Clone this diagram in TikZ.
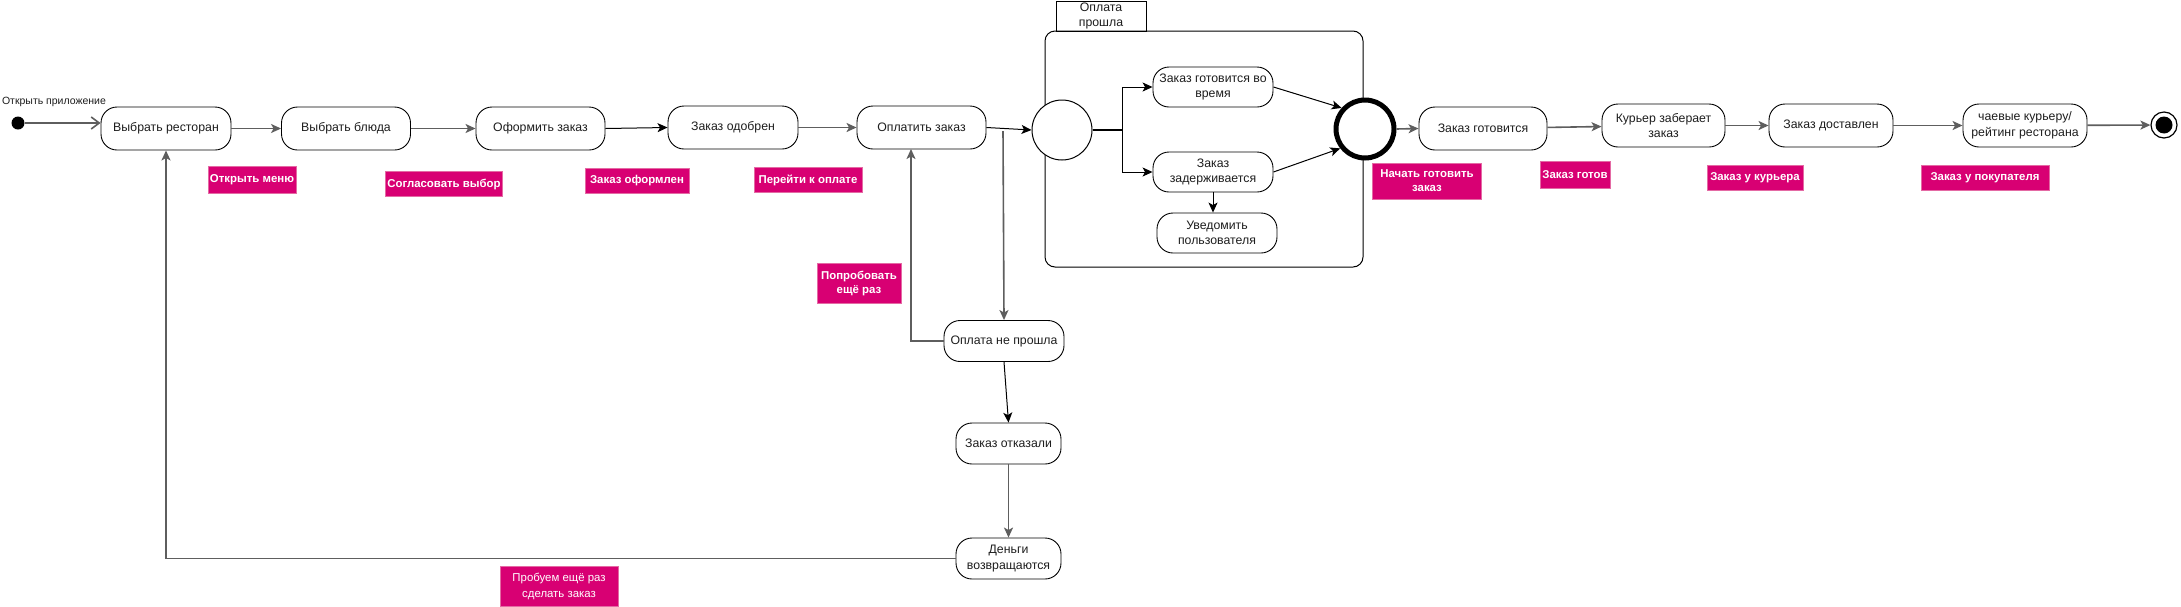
\documentclass[tikz,border=0pt]{standalone}
\usepackage{fontspec}
\setmainfont{Liberation Sans}
\usetikzlibrary{arrows.meta,calc}
\definecolor{pinkfill}{HTML}{D80073}
\definecolor{pinkedge}{HTML}{E46AA4}
\definecolor{edgegray}{HTML}{5E5E5E}
\definecolor{txt}{HTML}{1E1E1E}
\tikzset{
  st/.style={draw=black, line width=0.9pt, rounded corners=16pt, fill=white, align=center,
    text=txt, font=\fontsize{12.3}{15.5}\selectfont, inner sep=2pt, minimum height=43pt},
  tag/.style={fill=pinkfill, draw=pinkedge, line width=0.8pt, text=white,
    font=\bfseries\fontsize{11.4}{14}\selectfont, align=center, inner sep=2pt},
  tip/.style={-{Stealth[length=10pt,width=9pt,inset=2.5pt]}},
  gl/.style={draw=edgegray, line width=1.6pt},
  bl/.style={draw=black, line width=1pt},
}
\begin{document}
\begin{tikzpicture}[x=1pt,y=-1pt]
\useasboundingbox (0,0) rectangle (2181,606);
\fill[white] (0,0) rectangle (2181,606);

% composite state frame
\draw[line width=1pt, rounded corners=10pt] (1045,31) rectangle (1363,267);
\node[draw, line width=0.9pt, minimum width=90pt, minimum height=30pt, inner sep=0pt,
  align=center, font=\fontsize{12.3}{15}\selectfont, text=txt] (tab) at (1101,16) {Оплата\\прошла};

% start
\node[circle, fill=black, minimum size=13pt, inner sep=0pt] (start) at (18,123) {};
\node[font=\fontsize{10.5}{12}\selectfont, text=txt, inner sep=0pt] (startlbl) at (54,102) {Открыть приложение};

% main row
\node[st, minimum width=130pt] (b1) at (166,128.5) {Выбрать ресторан};
\node[st, minimum width=129pt] (b2) at (346,128.5) {Выбрать блюда};
\node[st, minimum width=129pt] (b3) at (540.5,128.5) {Оформить заказ};
\node[st, minimum width=130pt] (b4) at (733,127.5) {Заказ одобрен};
\node[st, minimum width=129pt] (b5) at (921.5,127.5) {Оплатить заказ};

% fork circle
\node[circle, draw, line width=1pt, fill=white, minimum size=60pt, inner sep=0pt] (fork) at (1062,130) {};
\coordinate (fk) at (1122,130);
\node[st, minimum width=120pt, minimum height=40pt] (tme) at (1213,87) {Заказ готовится во\\время};
\node[st, minimum width=120pt, minimum height=40pt] (dly) at (1213,172) {Заказ\\задерживается};
\node[st, minimum width=120pt, minimum height=40pt] (ntf) at (1217,233) {Уведомить\\пользователя};

% join circle
\node[circle, draw, line width=5pt, fill=white, minimum size=58pt, inner sep=0pt] (join) at (1365,129) {};

% right row
\node[st, minimum width=128pt] (cook) at (1483,128.5) {Заказ готовится};
\node[st, minimum width=123pt] (cour) at (1663.5,125.5) {Курьер заберает\\заказ};
\node[st, minimum width=124pt] (deliv) at (1831,125.5) {Заказ доставлен};
\node[st, minimum width=124pt] (tips) at (2025,125.5) {чаевые курьеру/\\рейтинг ресторана};
\node[circle, draw, line width=1.2pt, fill=white, minimum size=26pt, inner sep=0pt] (endc) at (2164,125) {};
\node[circle, fill=black, minimum size=17pt, inner sep=0pt] (endd) at (2164,125) {};

% failure branch
\node[st, minimum width=120pt, minimum height=41pt] (fail) at (1004,341) {Оплата не прошла};
\node[st, minimum width=105pt, minimum height=41pt] (refused) at (1008.5,443.5) {Заказ отказали};
\node[st, minimum width=105pt, minimum height=41pt] (money) at (1008.5,558.5) {Деньги\\возвращаются};
\coordinate (br) at (1003,131);
\coordinate (retrytop) at (911,149);

% pink labels
\node[tag, minimum width=81pt, minimum height=27pt] (m1) at (252,180) {Открыть меню};
\node[tag, minimum width=114pt, minimum height=25pt] (m2) at (444,184) {Согласовать выбор};
\node[tag, minimum width=104pt, minimum height=25pt] (m3) at (637,181) {Заказ оформлен};
\node[tag, minimum width=108pt, minimum height=25pt] (m4) at (808,180) {Перейти к оплате};
\node[tag, minimum width=109pt, minimum height=36pt] (m5) at (1427,181) {Начать готовить\\заказ};
\node[tag, minimum width=70pt, minimum height=27pt] (m6) at (1575,175) {Заказ готов};
\node[tag, minimum width=96pt, minimum height=25pt] (m7) at (1755,178) {Заказ у курьера};
\node[tag, minimum width=128pt, minimum height=25pt] (m8) at (1985,178) {Заказ у покупателя};
\node[tag, minimum width=84pt, minimum height=40pt] (m9) at (859,283) {Попробовать\\ещё раз};
\node[tag, minimum width=118pt, minimum height=40pt, font=\fontsize{11.4}{16}\selectfont] (m10) at (559,586) {Пробуем ещё раз\\сделать заказ};

% connectors
\draw[gl, -{Straight Barb[length=8pt,width=12pt]}] (start) -- (start -| b1.west);
\draw[gl, tip] (b1) -- (b2);
\draw[gl, tip] (b2) -- (b3);
\draw[bl, tip] (b3.east) -- (b4.west);
\draw[gl, tip] (b4) -- (b5);
\draw[bl, tip] (b5.east) -- (fork.west);
\draw[gl, tip] (br) -- (fail.north);

\draw[bl, line width=1.5pt] (fork.east) -- (fk);
\draw[bl, tip] (fk) |- (tme.west);
\draw[bl, tip] (fk) |- (dly.west);
\draw[bl, tip] (dly.south) -- (dly.south |- ntf.north);
\draw[bl, tip] (tme.east) -- (join.138);
\draw[bl, tip] (dly.east) -- (join.218);

\draw[gl, tip] (join.east) -- (cook.west);
\draw[gl, tip] (cook) -- (cour);
\draw[gl, tip] (cour) -- (deliv);
\draw[gl, tip] (deliv) -- (tips);
\draw[gl, tip] (tips) -- (endc);

\draw[gl, tip] (fail.west) -| (retrytop);
\draw[bl, tip] (fail.south) -- (refused.north);
\draw[gl, tip] (refused) -- (money);
\draw[gl, tip] (money.west) -| (b1.south);
\end{tikzpicture}
\end{document}
